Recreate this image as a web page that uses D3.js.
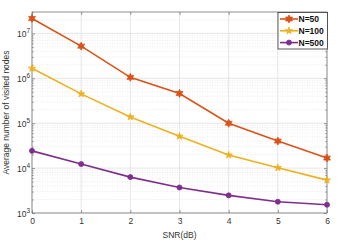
<!DOCTYPE html>
<html><head><meta charset="utf-8">
<script src="https://cdn.jsdelivr.net/npm/d3@7"></script>
<style>body{margin:0;background:#fff}svg{display:block}</style>
</head><body>
<script>
const snr = [0, 1, 2, 3, 4, 5, 6];
const n50 = [2.15e7, 5.2e6, 1.05e6, 4.6e5, 1.0e5, 4.0e4, 1.67e4];
const n100 = [1.67e6, 4.5e5, 1.38e5, 5.1e4, 1.95e4, 1.02e4, 5.4e3];
const n500 = [2.42e4, 1.23e4, 6.3e3, 3.7e3, 2.47e3, 1.78e3, 1.53e3];
const seriesNames = ["N=50", "N=100", "N=500"];
const yTickExps = [3, 4, 5, 6, 7];

const W = 346, H = 244;
const m = {l: 32, r: 19, t: 12, b: 31};
const FF = "'Liberation Sans', Arial, sans-serif";
const svg = d3.select("body").append("svg").attr("width", W).attr("height", H)
  .style("font-family", FF);

const x = d3.scaleLinear().domain([0, 6]).range([m.l, W - m.r]);
const y = d3.scaleLog().domain([1e3, 3e7]).range([H - m.b, m.t]);

const g = svg.append("g");
const minor = [];
for (let e = 3; e <= 7; e++) for (let k = 2; k <= 9; k++) { const v = k * Math.pow(10, e); if (v <= 3e7) minor.push(v); }
g.selectAll(".mg").data(minor).enter().append("line")
  .attr("x1", m.l).attr("x2", W - m.r).attr("y1", d => y(d)).attr("y2", d => y(d))
  .attr("stroke", "#e2e2e2").attr("stroke-width", 0.7).attr("stroke-dasharray", "1,1.5");
g.selectAll(".gy").data(yTickExps.map(e => Math.pow(10, e))).enter().append("line")
  .attr("x1", m.l).attr("x2", W - m.r).attr("y1", d => y(d)).attr("y2", d => y(d))
  .attr("stroke", "#e0e0e0").attr("stroke-width", 0.8);
g.selectAll(".gx").data(snr).enter().append("line")
  .attr("y1", m.t).attr("y2", H - m.b).attr("x1", d => x(d)).attr("x2", d => x(d))
  .attr("stroke", "#e0e0e0").attr("stroke-width", 0.8);

const axCol = "#7a7a7a";
g.append("rect").attr("x", m.l).attr("y", m.t).attr("width", W - m.r - m.l).attr("height", H - m.b - m.t)
  .attr("fill", "none").attr("stroke", axCol).attr("stroke-width", 0.8);
const xAxB = d3.axisBottom(x).tickValues(snr).tickSizeInner(-3).tickSizeOuter(0).tickPadding(5).tickFormat(d3.format("d"));
const xAxT = d3.axisTop(x).tickValues(snr).tickSizeInner(-3).tickSizeOuter(0).tickFormat("");
const yAxL = d3.axisLeft(y).tickValues(yTickExps.map(e => Math.pow(10, e))).tickSizeInner(-3).tickSizeOuter(0).tickFormat("");
const yAxR = d3.axisRight(y).tickValues(yTickExps.map(e => Math.pow(10, e))).tickSizeInner(-3).tickSizeOuter(0).tickFormat("");
const yMinL = d3.axisLeft(y).tickValues(minor).tickSizeInner(-1.6).tickSizeOuter(0).tickFormat("");
const yMinR = d3.axisRight(y).tickValues(minor).tickSizeInner(-1.6).tickSizeOuter(0).tickFormat("");
function style(sel){ sel.select(".domain").remove(); sel.selectAll("line").attr("stroke", axCol).attr("stroke-width",0.8); sel.selectAll("text").attr("fill","#333").style("font-size","8.5px").style("font-family",FF); }
svg.append("g").attr("transform", `translate(0,${H - m.b})`).call(xAxB).call(style);
svg.append("g").attr("transform", `translate(0,${m.t})`).call(xAxT).call(style);
svg.append("g").attr("transform", `translate(${m.l},0)`).call(yAxL).call(style);
svg.append("g").attr("transform", `translate(${W - m.r},0)`).call(yAxR).call(style);
svg.append("g").attr("transform", `translate(${m.l},0)`).call(yMinL).call(style);
svg.append("g").attr("transform", `translate(${W - m.r},0)`).call(yMinR).call(style);

yTickExps.forEach(e => {
  const t = svg.append("text").attr("x", m.l - 2).attr("y", y(Math.pow(10, e)) + 4)
    .attr("text-anchor", "end").attr("fill", "#333").style("font-size", "8.5px");
  t.append("tspan").text("10");
  t.append("tspan").attr("dy", -4).style("font-size", "6.5px").text(e);
});

svg.append("text").attr("x", (m.l + W - m.r) / 2).attr("y", 238).attr("text-anchor", "middle")
  .attr("fill", "#333").style("font-size", "8.5px").text("SNR(dB)");
svg.append("text").attr("transform", `translate(9,${(m.t + H - m.b) / 2}) rotate(-90)`)
  .attr("text-anchor", "middle").attr("fill", "#333").style("font-size", "8.5px").text("Average number of visited nodes");

function hexagram(r) {
  const pts = [];
  for (let i = 0; i < 12; i++) { const a = -Math.PI / 2 + i * Math.PI / 6; const rr = i % 2 === 0 ? r : r * 0.55; pts.push([rr * Math.cos(a), rr * Math.sin(a)]); }
  return "M" + pts.map(p => p.join(",")).join("L") + "Z";
}
const series = [
  {name: seriesNames[0], vals: n50, color: "#D95319", marker: hexagram(4)},
  {name: seriesNames[1], vals: n100, color: "#EDB120", marker: d3.symbol(d3.symbolStar, 16)()},
  {name: seriesNames[2], vals: n500, color: "#7E2F8E", marker: d3.symbol(d3.symbolCircle, 20)()}
];
const line = d3.line().x(d => x(d[0])).y(d => y(d[1]));
series.forEach(s => {
  const pts = snr.map((v, i) => [v, s.vals[i]]);
  svg.append("path").attr("d", line(pts)).attr("fill", "none").attr("stroke", s.color).attr("stroke-width", 1.6);
  svg.selectAll(null).data(pts).enter().append("path").attr("d", s.marker)
    .attr("transform", d => `translate(${x(d[0])},${y(d[1])})`).attr("fill", s.color).attr("stroke", s.color).attr("stroke-width", 0.8);
});

const lg = svg.append("g");
lg.append("rect").attr("x", 278).attr("y", 12.5).attr("width", 49.5).attr("height", 36.5)
  .attr("fill", "#fff").attr("stroke", "#333").attr("stroke-width", 0.8);
series.forEach((s, i) => {
  const yy = 19 + i * 11.8;
  lg.append("line").attr("x1", 280).attr("x2", 298).attr("y1", yy).attr("y2", yy).attr("stroke", s.color).attr("stroke-width", 1.6);
  lg.append("path").attr("d", s.marker).attr("transform", `translate(289,${yy})`).attr("fill", s.color).attr("stroke", s.color).attr("stroke-width", 0.8);
  lg.append("text").attr("x", 298.5).attr("y", yy + 3).attr("fill", "#111").style("font-size", "8.5px").style("font-weight", "bold").text(s.name);
});
</script>
</body></html>
